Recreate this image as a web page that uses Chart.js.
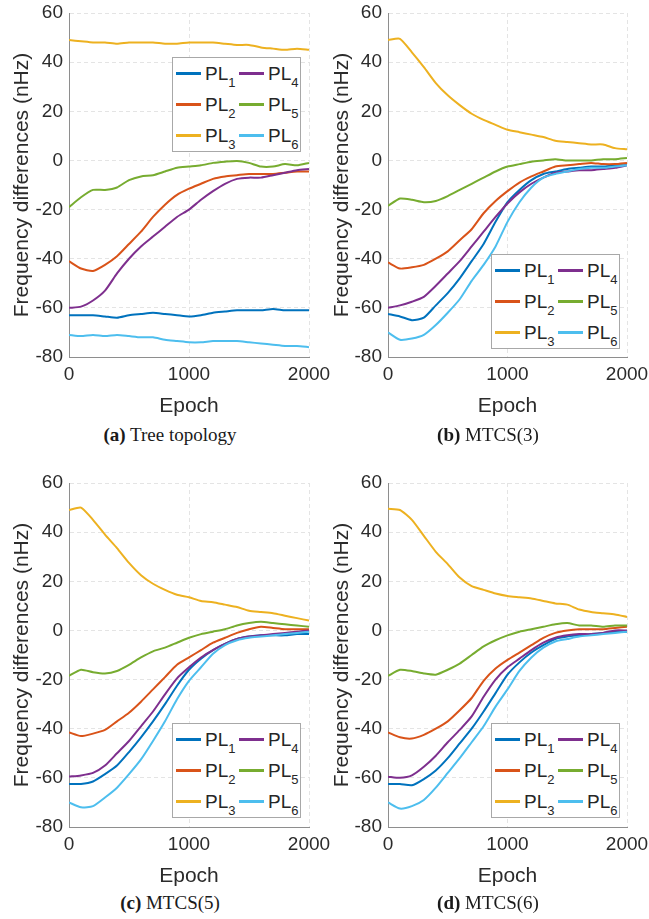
<!DOCTYPE html>
<html>
<head>
<meta charset="utf-8">
<script src="https://cdn.jsdelivr.net/npm/chart.js@4.4.1/dist/chart.umd.min.js"></script>
<style>
  body { margin: 0; background: #fff; width: 649px; height: 919px; position: relative; overflow: hidden;
         font-family: "Liberation Sans", Arial, Helvetica, sans-serif; }
  canvas { position: absolute; }
  .cap { position: absolute; font-family: "Liberation Serif", "Times New Roman", serif; font-size: 19px;
         line-height: 20px; color: #1a1a1a; transform: translateX(-50%); white-space: nowrap; }
  .leg { position: absolute; width: 129px; height: 95px; box-sizing: border-box; background: #fff;
         border: 1px solid #a8a8a8; display: grid; grid-auto-flow: column;
         grid-template-columns: 63px 63px; grid-template-rows: 31px 31px 31px; }
  .leg .item { display: flex; align-items: center; font-size: 19px; line-height: 1; color: #262626; }
  .leg .swatch { display: inline-block; width: 25px; height: 2.5px; margin: 0 4px 0 3px; }
  .leg sub { font-size: 13px; vertical-align: baseline; position: relative; top: 7px; }
</style>
</head>
<body>
<canvas id="chartA" width="340" height="419" style="left:0;top:0"></canvas>
<canvas id="chartB" width="329" height="419" style="left:320px;top:0"></canvas>
<canvas id="chartC" width="340" height="419" style="left:0;top:470px"></canvas>
<canvas id="chartD" width="329" height="419" style="left:320px;top:470px"></canvas>

<div class="cap" style="left:170px;top:425px"><b>(a)</b> Tree topology</div>
<div class="cap" style="left:488px;top:425px"><b>(b)</b> MTCS(3)</div>
<div class="cap" style="left:170px;top:893px"><b>(c)</b> MTCS(5)</div>
<div class="cap" style="left:488px;top:893px"><b>(d)</b> MTCS(6)</div>

<script>
// x positions of the samples (epochs)
const epochs = [0, 100, 200, 300, 400, 500, 600, 700, 800, 900, 1000,
                1100, 1200, 1300, 1400, 1500, 1600, 1700, 1800, 1900, 2000];
const seriesNames = ['PL1', 'PL2', 'PL3', 'PL4', 'PL5', 'PL6'];
const seriesColors = ['#0072BD', '#D95319', '#EDB120', '#7E2F8E', '#77AC30', '#4DBEEE'];
const xTicks = [0, 1000, 2000];
const yTicks = [-80, -60, -40, -20, 0, 20, 40, 60];

// (a) Tree topology
const tree_PL1 = [-63, -63, -63, -63.5, -64, -63, -62.5, -62, -62.5, -63, -63.5, -63, -62, -61.5, -61, -61, -61, -60.5, -61, -61, -61];
const tree_PL2 = [-41, -44, -45, -42.5, -39, -34, -29, -23, -18, -14, -11.5, -9.5, -7.5, -6.5, -6, -5.5, -5.5, -5.5, -5, -4.5, -4.5];
const tree_PL3 = [49, 48.5, 48, 48, 47.5, 48, 48, 48, 47.5, 47.5, 48, 48, 48, 47.5, 47, 47, 46, 45.5, 45, 45.5, 45];
const tree_PL4 = [-60, -59.5, -57, -53, -46, -40, -35, -31, -27, -23, -20, -16, -12.5, -9.5, -7.5, -7, -7, -6, -5, -4, -3.5];
const tree_PL5 = [-19, -15, -12, -12, -11, -8, -6.5, -6, -4.5, -3, -2.5, -2, -1, -0.5, -0.2, -1, -2.5, -2.5, -1.5, -2, -1];
const tree_PL6 = [-71, -71.5, -71, -71.5, -71, -71.5, -72, -72, -73, -73.5, -74, -74, -73.5, -73.5, -73.5, -74, -74.5, -75, -75.5, -75.5, -76];

// (b) MTCS(3)
const mtcs3_PL1 = [-62.5, -63.5, -65, -64, -59, -54, -48, -41, -34, -25, -17, -12, -8, -5.5, -4.5, -3.5, -3, -2.5, -2.5, -2, -2];
const mtcs3_PL2 = [-41.5, -44, -43.5, -42.5, -40, -37, -32.5, -28, -21.5, -16.5, -12.5, -9, -6.5, -4.5, -2.5, -2, -1.5, -1, -1.5, -1.5, -1];
const mtcs3_PL3 = [49, 49.5, 44, 38, 31.5, 26.5, 22.5, 19, 16.5, 14.5, 12.5, 11.5, 10.5, 9.5, 8, 7.5, 7, 6.5, 6.5, 5, 4.5];
const mtcs3_PL4 = [-60, -59, -57.5, -55.5, -51, -46, -41, -35, -29, -23, -17.5, -13, -9.5, -7, -5, -4.5, -4, -4, -3.5, -3, -2];
const mtcs3_PL5 = [-18.5, -15.5, -16, -17, -16.5, -14.5, -12, -9.5, -7, -4.5, -2.5, -1.5, -0.5, 0, 0.5, 0, 0, 0, 0.5, 0.5, 1];
const mtcs3_PL6 = [-70, -73, -72.5, -71, -67, -62, -56.5, -49, -42.5, -35, -25, -17, -11, -7, -5.5, -4.5, -3.5, -3, -3, -2.5, -2];

// (c) MTCS(5)
const mtcs5_PL1 = [-62.5, -62.5, -61.5, -58.5, -55, -49.5, -43.5, -37, -30, -22.5, -16, -11.5, -8, -5.5, -3.5, -2.5, -2, -2, -2, -1.5, -1.5];
const mtcs5_PL2 = [-41.5, -43, -42, -40.5, -37, -33.5, -29, -24, -19, -14, -11, -8, -5, -3, -1, 0.5, 1.5, 1, 0.5, 0.5, 0.5];
const mtcs5_PL3 = [49, 50, 45, 39, 33.5, 27.5, 22.5, 19, 16.5, 14.5, 13.5, 12, 11.5, 10.5, 9.5, 8, 7.5, 7, 6, 5, 4];
const mtcs5_PL4 = [-59.5, -59, -58, -55, -50, -45, -39, -33, -26, -19.5, -15, -11, -8, -5.5, -3.5, -2.5, -2, -1.5, -1, -0.5, 0];
const mtcs5_PL5 = [-18.5, -16, -17, -17.5, -16.5, -14, -11, -8.5, -7, -5, -3, -1.5, -0.5, 0.5, 2, 3, 3.5, 3, 2.5, 2, 1.5];
const mtcs5_PL6 = [-70, -72, -71.5, -68, -64, -58.5, -52.5, -45, -37, -28, -20.5, -15, -9.5, -6, -4, -3, -2.5, -2, -1.5, -1, -0.5];

// (d) MTCS(6)
const mtcs6_PL1 = [-62.5, -62.5, -63, -60.5, -57, -52, -46, -40, -33, -25.5, -18, -13, -9, -6, -3.5, -2.5, -2, -1.5, -1, -0.5, -0.5];
const mtcs6_PL2 = [-41.5, -43.5, -44, -42.5, -40, -37, -32.5, -27.5, -20.5, -15.5, -12, -9, -6, -3, -1, 0, 0.5, 0.5, 0.5, 1, 1.5];
const mtcs6_PL3 = [49.5, 49, 45, 38.5, 32, 27, 21.5, 18, 16.5, 15, 14, 13.5, 13, 12, 11, 10.5, 8.5, 7.5, 7, 6.5, 5.5];
const mtcs6_PL4 = [-59.5, -60, -59, -55.5, -51, -45.5, -40.5, -35, -27, -20, -15, -11.5, -8, -5, -3, -2, -1.5, -1.5, -1, 0, 0];
const mtcs6_PL5 = [-18.5, -16, -16.5, -17.5, -18, -16, -13.5, -10, -6.5, -4, -2, -0.5, 0.5, 1.5, 2.5, 3, 2, 2, 1.5, 2, 2];
const mtcs6_PL6 = [-70, -72.5, -71.5, -69, -64, -58, -52, -45.5, -39, -31, -24, -16.5, -11, -7, -4.5, -3.5, -2.5, -2, -1.5, -1, -0.5];

// legend drawn as html so the subscripts stay real text
const htmlLegend = {
  id: 'htmlLegend',
  afterInit(chart, args, opts) {
    const box = document.createElement('div');
    box.className = 'leg';
    box.style.left = opts.left + 'px';
    box.style.top = opts.top + 'px';
    chart.data.datasets.forEach(ds => {
      const item = document.createElement('div');
      item.className = 'item';
      const swatch = document.createElement('span');
      swatch.className = 'swatch';
      swatch.style.background = ds.borderColor;
      const txt = document.createElement('span');
      txt.innerHTML = ds.label.replace(/(\d+)$/, '<sub>$1</sub>');
      item.append(swatch, txt);
      box.appendChild(item);
    });
    document.body.appendChild(box);
  }
};

const textColor = '#2b2b2b';

function makeChart(canvasId, series, yWidth, padRight, legendPos) {
  return new Chart(document.getElementById(canvasId), {
    type: 'line',
    data: {
      datasets: series.map((vals, i) => ({
        label: seriesNames[i],
        data: vals.map((v, k) => ({ x: epochs[k], y: v })),
        borderColor: seriesColors[i],
        backgroundColor: seriesColors[i],
        borderWidth: 2,
        pointRadius: 0,
        tension: 0.2,
        order: 6 - i   // PL6 drawn last, on top
      }))
    },
    options: {
      responsive: false,
      animation: false,
      events: [],
      layout: { padding: { left: 0, right: padRight, top: 13, bottom: 0 } },
      plugins: {
        legend: { display: false },
        tooltip: { enabled: false },
        htmlLegend: legendPos
      },
      scales: {
        x: {
          type: 'linear', min: 0, max: 2000,
          afterBuildTicks: s => { s.ticks = xTicks.map(v => ({ value: v })); },
          ticks: { font: { size: 19 }, color: textColor, padding: 6, maxRotation: 0, autoSkip: false,
                   callback: v => String(v) },
          grid: { color: '#e4e4e4', drawTicks: false },
          border: { color: '#8e8e8e', dash: [4, 3] },
          title: { display: true, text: 'Epoch', font: { size: 21 }, color: textColor, padding: 0 },
          afterFit: s => { s.height = 62; s.paddingLeft = 0; s.paddingRight = 0; }
        },
        y: {
          min: -80, max: 60,
          afterBuildTicks: s => { s.ticks = yTicks.map(v => ({ value: v })); },
          ticks: { font: { size: 19 }, color: textColor, padding: 6, callback: v => String(v) },
          grid: { color: '#e4e4e4', drawTicks: false },
          border: { color: '#8e8e8e', dash: [4, 3] },
          title: { display: true, text: 'Frequency differences (nHz)', font: { size: 21 }, color: textColor,
                   padding: { top: 10, bottom: 0 } },
          afterFit: s => { s.width = yWidth; s.paddingTop = 0; s.paddingBottom = 0; }
        }
      }
    },
    plugins: [htmlLegend]
  });
}

makeChart('chartA', [tree_PL1, tree_PL2, tree_PL3, tree_PL4, tree_PL5, tree_PL6], 69, 31, { left: 172, top: 57 });
makeChart('chartB', [mtcs3_PL1, mtcs3_PL2, mtcs3_PL3, mtcs3_PL4, mtcs3_PL5, mtcs3_PL6], 68, 22, { left: 491, top: 254 });
makeChart('chartC', [mtcs5_PL1, mtcs5_PL2, mtcs5_PL3, mtcs5_PL4, mtcs5_PL5, mtcs5_PL6], 69, 31, { left: 172, top: 723 });
makeChart('chartD', [mtcs6_PL1, mtcs6_PL2, mtcs6_PL3, mtcs6_PL4, mtcs6_PL5, mtcs6_PL6], 68, 22, { left: 491, top: 723 });
</script>
</body>
</html>
